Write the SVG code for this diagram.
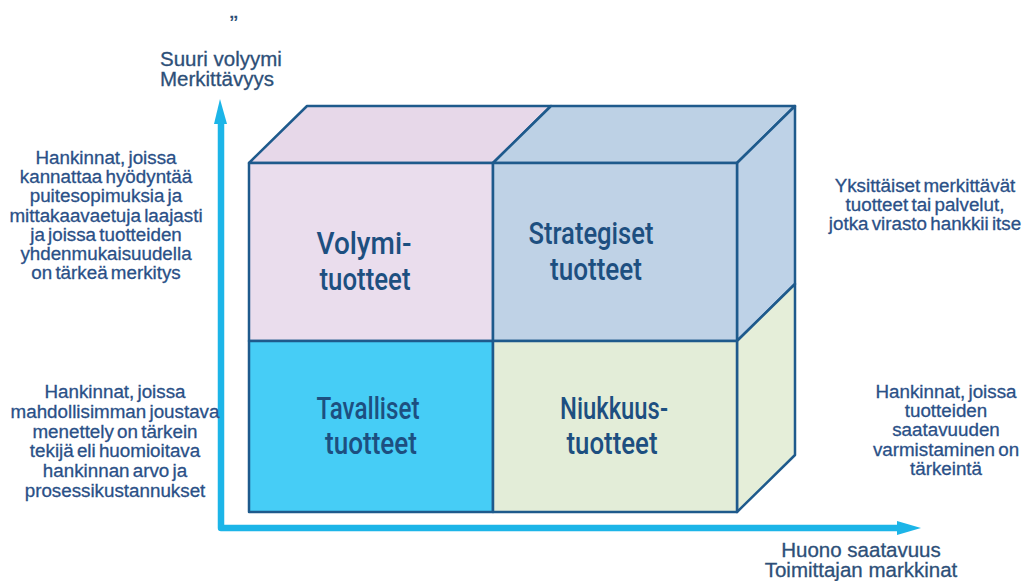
<svg xmlns="http://www.w3.org/2000/svg" width="1029" height="581" viewBox="0 0 1029 581">
<style>
.face{stroke:#1e5a8c;stroke-width:2.5;stroke-linejoin:round}
.lbl{font-family:Roboto,"Liberation Sans",Arial,sans-serif;font-weight:500;font-size:31px;fill:#1d4f80;text-anchor:middle}
.side{font-family:"Liberation Sans",Arial,sans-serif;font-size:18.8px;fill:#2a5087;stroke:#2a5087;stroke-width:0.3;text-anchor:middle;word-spacing:-2px}
.axl{font-family:"Liberation Sans",Arial,sans-serif;font-size:20.5px;fill:#2d4f78;stroke:#2d4f78;stroke-width:0.3}
.axis{fill:none;stroke:#1cb5e8;stroke-width:6.5;stroke-linejoin:round}
.head{fill:#1cb5e8}
</style>
<rect width="1029" height="581" fill="#ffffff"/>
<text x="229" y="18" style="font-family:'Liberation Sans',Arial,sans-serif;font-size:19px;font-weight:bold;fill:#2d4f78">„</text>

<g id="connectors">
<path class="axis" d="M221,120 L221,528 L900,528"/>
<polygon class="head" points="220,99 227,124 214,124"/>
<polygon class="head" points="921,528 897,521 897,535"/>
</g>

<g id="volyymi">
<polygon class="face" fill="#e7d8e9" points="249,163 307,106 551,106 493,163"/>
<rect class="face" fill="#eadded" x="249" y="163" width="244" height="178"/>
<text class="lbl" x="364" y="254" textLength="95" lengthAdjust="spacingAndGlyphs">Volymi-</text>
<text class="lbl" x="365" y="290" textLength="91" lengthAdjust="spacingAndGlyphs">tuotteet</text>
</g>

<g id="strategiset">
<polygon class="face" fill="#bdd1e5" points="493,163 551,106 795,106 737,163"/>
<polygon class="face" fill="#bed2e7" points="737,163 795,106 795,284 737,341"/>
<rect class="face" fill="#bfd2e6" x="493" y="163" width="244" height="178"/>
<text class="lbl" x="591" y="244" textLength="125" lengthAdjust="spacingAndGlyphs">Strategiset</text>
<text class="lbl" x="596" y="280" textLength="92" lengthAdjust="spacingAndGlyphs">tuotteet</text>
</g>

<g id="tavalliset">
<rect class="face" fill="#46cdf6" x="249" y="341" width="244" height="171"/>
<text class="lbl" x="368" y="419" textLength="103" lengthAdjust="spacingAndGlyphs">Tavalliset</text>
<text class="lbl" x="371" y="454" textLength="92" lengthAdjust="spacingAndGlyphs">tuotteet</text>
</g>

<g id="niukkuus">
<polygon class="face" fill="#e5eed9" points="737,341 795,284 795,455 737,512"/>
<rect class="face" fill="#e3edd8" x="493" y="341" width="244" height="171"/>
<text class="lbl" x="614" y="419" textLength="108" lengthAdjust="spacingAndGlyphs">Niukkuus-</text>
<text class="lbl" x="612" y="454" textLength="91" lengthAdjust="spacingAndGlyphs">tuotteet</text>
</g>

<g id="axis-y-label">
<text class="axl" x="160" y="66">Suuri volyymi</text>
<text class="axl" x="160" y="86">Merkittävyys</text>
</g>
<g id="axis-x-label">
<text class="axl" x="861" y="557" text-anchor="middle">Huono saatavuus</text>
<text class="axl" x="861" y="577" text-anchor="middle">Toimittajan markkinat</text>
</g>

<g id="note-top-left">
<text class="side" x="106" y="164">Hankinnat, joissa</text>
<text class="side" x="106" y="183">kannattaa hyödyntää</text>
<text class="side" x="106" y="202">puitesopimuksia ja</text>
<text class="side" x="106" y="222">mittakaavaetuja laajasti</text>
<text class="side" x="106" y="241">ja joissa tuotteiden</text>
<text class="side" x="106" y="260">yhdenmukaisuudella</text>
<text class="side" x="106" y="279">on tärkeä merkitys</text>
</g>
<g id="note-bottom-left">
<text class="side" x="115" y="398">Hankinnat, joissa</text>
<text class="side" x="115" y="418">mahdollisimman joustava</text>
<text class="side" x="115" y="438">menettely on tärkein</text>
<text class="side" x="115" y="457">tekijä eli huomioitava</text>
<text class="side" x="115" y="477">hankinnan arvo ja</text>
<text class="side" x="115" y="497">prosessikustannukset</text>
</g>
<g id="note-top-right">
<text class="side" x="925" y="192">Yksittäiset merkittävät</text>
<text class="side" x="925" y="211">tuotteet tai palvelut,</text>
<text class="side" x="925" y="230">jotka virasto hankkii itse</text>
</g>
<g id="note-bottom-right">
<text class="side" x="946" y="398">Hankinnat, joissa</text>
<text class="side" x="946" y="417">tuotteiden</text>
<text class="side" x="946" y="436">saatavuuden</text>
<text class="side" x="946" y="456">varmistaminen on</text>
<text class="side" x="946" y="475">tärkeintä</text>
</g>
</svg>
